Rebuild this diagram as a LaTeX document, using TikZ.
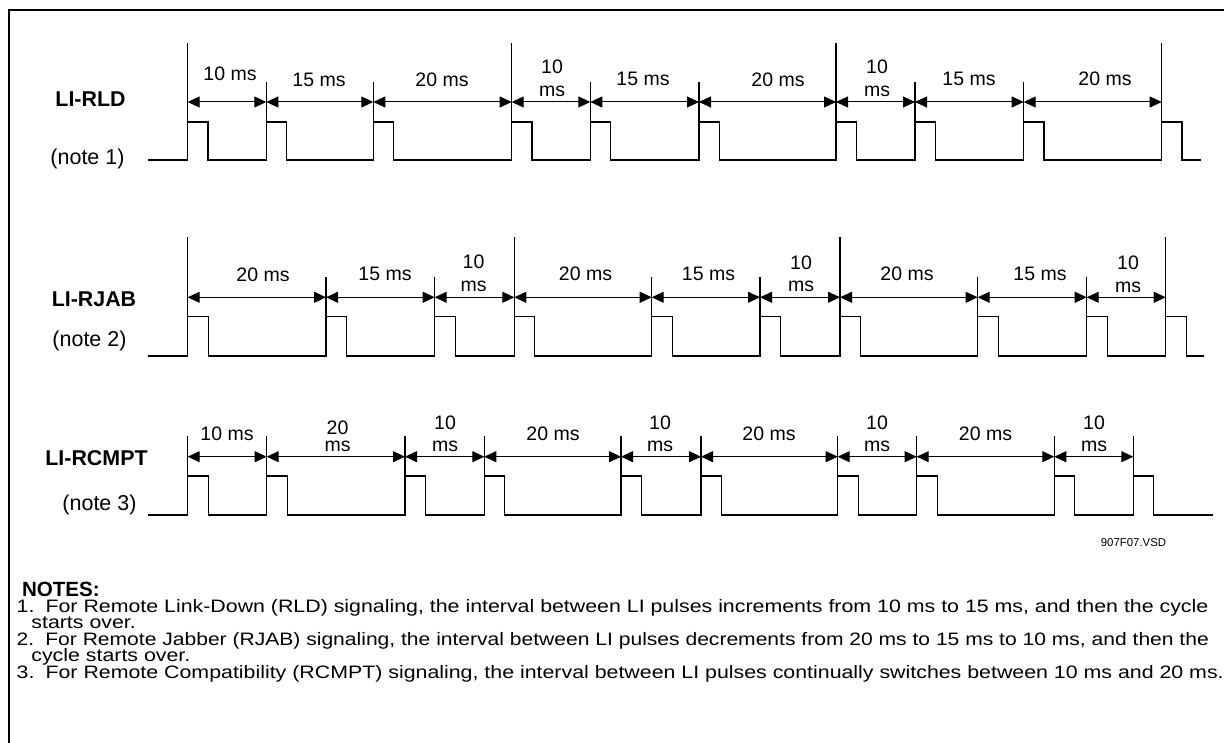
\documentclass[tikz,border=0pt]{standalone}
\usepackage{fontspec}
\setmainfont{Liberation Sans}
\newfontfamily\notefont{Liberation Sans}[FakeStretch=1.186]
\newfontfamily\notefontb{Liberation Sans}[FakeStretch=1.17]
\usetikzlibrary{arrows.meta}
\newcommand\tightls{\lineskiplimit=-100pt\relax}
\begin{document}
\begin{tikzpicture}[x=1pt,y=-1pt,
  wave/.style={line width=1.1pt, line join=miter},
  marker/.style={line width=1.1pt},
  dim/.style={line width=1pt, {Triangle[length=12pt,width=11pt]}-{Triangle[length=12pt,width=11pt]}},
  lbl/.style={font=\fontsize{19.5}{22.7}\selectfont\tightls, anchor=base, inner sep=0pt, align=center},
  rowlbl/.style={font=\fontsize{21.4}{25}\selectfont\bfseries, anchor=base, inner sep=0pt},
  notelbl/.style={font=\fontsize{21.5}{25}\selectfont, anchor=base, inner sep=0pt},
  notehead/.style={font=\fontsize{20.6}{25}\selectfont\bfseries, anchor=base west, inner sep=0pt},
  notetext/.style={font=\notefont\fontsize{18}{20}\selectfont, anchor=base west, inner sep=0pt},
  notetextb/.style={font=\notefontb\fontsize{18}{20}\selectfont, anchor=base west, inner sep=0pt},
  ref/.style={font=\fontsize{11.4}{13}\selectfont, anchor=base, inner sep=0pt},
  frame/.style={line width=2pt}
]
\useasboundingbox (0,0) rectangle (1224,743);
\draw[frame] (9,760) -- (9,10) -- (1240,10);

% ---------- Row 1: LI-RLD ----------
\node[rowlbl] (n1a) at (90.5,107) {LI-RLD};
\node[notelbl] (n1b) at (87.5,165) {(note 1)};
\draw[wave] (148,160) foreach \r in {187.7,266.3,373.3,511.7,590.3,699,836,915,1023.7,1161.7}
  { -- (\r,160) -- (\r,122) -- (\r+20.3,122) -- (\r+20.3,160) } -- (1201,160);
\foreach \r/\t [count=\i] in {187.7/43,266.3/82,373.3/82,511.7/43,590.3/82,699/82,836/43,915/82,1023.7/82,1161.7/43}{
  \coordinate (ra\i) at (\r,102);
  \draw[marker] (\r,\t) -- (\r,122);
}
\foreach \i [evaluate=\i as \j using int(\i+1)] in {1,...,9}
  \draw[dim] (ra\i) -- (ra\j);
\node[lbl] (l1a) at (230,80.5) {10 ms};
\node[lbl] (l1b) at (319,86.5) {15 ms};
\node[lbl] (l1c) at (442,86.5) {20 ms};
\node[lbl] (l1d) at (552,96.7) {10\\ms};
\node[lbl] (l1e) at (643,86) {15 ms};
\node[lbl] (l1f) at (778,86.5) {20 ms};
\node[lbl] (l1g) at (877,96.7) {10\\ms};
\node[lbl] (l1h) at (969,86) {15 ms};
\node[lbl] (l1i) at (1105,85.5) {20 ms};

% ---------- Row 2: LI-RJAB ----------
\node[rowlbl] (n2a) at (94,306.7) {LI-RJAB};
\node[notelbl] (n2b) at (89.5,347) {(note 2)};
\draw[wave] (148,356) foreach \r in {187.7,326,434.7,514.3,651.7,760,840,977.7,1086.7,1165.7}
  { -- (\r,356) -- (\r,316.5) -- (\r+20.5,316.5) -- (\r+20.5,356) } -- (1204,356);
\foreach \r/\t [count=\i] in {187.7/237.3,326/276.7,434.7/276.7,514.3/237.3,651.7/276.7,760/276.7,840/237.3,977.7/276.7,1086.7/276.7,1165.7/237.3}{
  \coordinate (rb\i) at (\r,297.3);
  \draw[marker] (\r,\t) -- (\r,316.5);
}
\foreach \i [evaluate=\i as \j using int(\i+1)] in {1,...,9}
  \draw[dim] (rb\i) -- (rb\j);
\node[lbl] (l2a) at (263,281.5) {20 ms};
\node[lbl] (l2b) at (385,281) {15 ms};
\node[lbl] (l2c) at (473.5,291.7) {10\\ms};
\node[lbl] (l2d) at (585.5,281) {20 ms};
\node[lbl] (l2e) at (708.5,281) {15 ms};
\node[lbl] (l2f) at (801,292) {10\\ms};
\node[lbl] (l2g) at (907,281) {20 ms};
\node[lbl] (l2h) at (1040,281) {15 ms};
\node[lbl] (l2i) at (1128,292.7) {10\\ms};

% ---------- Row 3: LI-RCMPT ----------
\node[rowlbl] (n3a) at (96.5,465) {LI-RCMPT};
\node[notelbl] (n3b) at (99.5,510) {(note 3)};
\draw[wave] (148,515) foreach \r in {187.7,266.7,405,484.3,621,701,837.7,916.7,1054.3,1133.3}
  { -- (\r,515) -- (\r,476) -- (\r+20.5,476) -- (\r+20.5,515) } -- (1213,515);
\foreach \r [count=\i] in {187.7,266.7,405,484.3,621,701,837.7,916.7,1054.3,1133.3}{
  \coordinate (rc\i) at (\r,456.7);
  \draw[marker] (\r,435.7) -- (\r,476);
}
\foreach \i [evaluate=\i as \j using int(\i+1)] in {1,...,9}
  \draw[dim] (rc\i) -- (rc\j);
\node[lbl] (l3a) at (227,440) {10 ms};
\node[lbl] (l3b) at (337.5,451.7) {20\\[-5.5pt]ms};
\node[lbl] (l3c) at (445,451.7) {10\\ms};
\node[lbl] (l3d) at (553,440) {20 ms};
\node[lbl] (l3e) at (660,451.7) {10\\ms};
\node[lbl] (l3f) at (769,440) {20 ms};
\node[lbl] (l3g) at (877,451.7) {10\\ms};
\node[lbl] (l3h) at (985.5,440) {20 ms};
\node[lbl] (l3i) at (1094,451.7) {10\\ms};

\node[ref] (vsd) at (1133.5,546) {907F07.VSD};

% ---------- Notes ----------
\node[notehead] (notes) at (21.8,596) {NOTES:};
\node[notetext] (note1a) at (16.5,612.5) {1.\hspace{11.1pt}For Remote Link-Down (RLD) signaling, the interval between LI pulses increments from 10 ms to 15 ms, and then the cycle};
\node[notetext] (note1b) at (31.2,628.9) {starts over.};
\node[notetextb] (note2a) at (16.5,645.3) {2.\hspace{11.1pt}For Remote Jabber (RJAB) signaling, the interval between LI pulses decrements from 20 ms to 15 ms to 10 ms, and then the};
\node[notetext] (note2b) at (31.2,661.7) {cycle starts over.};
\node[notetext] (note3a) at (16.5,678.1) {3.\hspace{11.1pt}For Remote Compatibility (RCMPT) signaling, the interval between LI pulses continually switches between 10 ms and 20 ms.};
\end{tikzpicture}
\end{document}
